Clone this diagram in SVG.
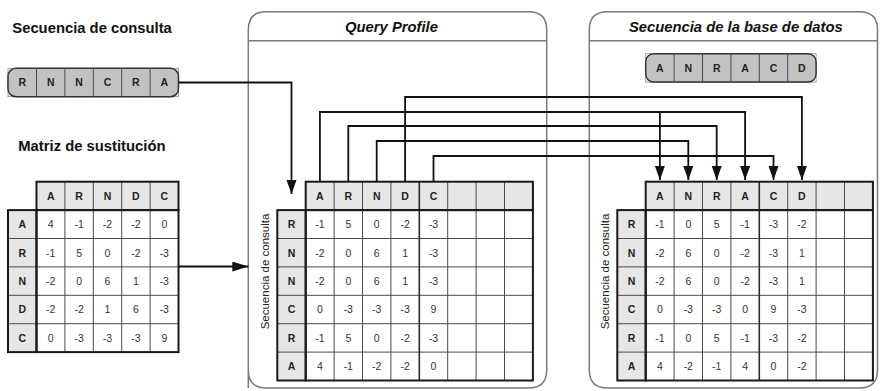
<svg xmlns="http://www.w3.org/2000/svg" width="880" height="391" viewBox="0 0 880 391">
  <style>
    .hdr { fill: #e6e6e6; }
    .seqcell { fill: #c2c2c2; }
    .white { fill: #ffffff; }
    .grid { stroke: #4a4a4a; stroke-width: 1; fill: none; }
    .frame { stroke: #1a1a1a; stroke-width: 2; fill: none; }
    .lbl { font-family: "Liberation Sans", Arial, sans-serif; font-weight: bold; font-size: 10.5px; text-anchor: middle; fill: #222; }
    .num { font-family: "Liberation Sans", Arial, sans-serif; font-size: 10.5px; text-anchor: middle; fill: #333; }
    .title { font-family: "Liberation Sans", Arial, sans-serif; font-weight: bold; font-size: 14.8px; fill: #111; }
    .ptitle { font-family: "Liberation Sans", Arial, sans-serif; font-weight: bold; font-style: italic; font-size: 14.8px; fill: #111; text-anchor: middle; }
    .side { font-family: "Liberation Sans", Arial, sans-serif; font-size: 11.5px; fill: #222; text-anchor: middle; }
    .panel { fill: #ffffff; stroke: #7a7a7a; stroke-width: 1.5; }
    .conn { stroke: #111; stroke-width: 1.8; fill: none; }
    .seqbox { fill: #c2c2c2; stroke: #333; stroke-width: 1.5; }
    .seqcorner { fill: none; stroke: #8a8a8a; stroke-width: 0.8; }
  </style>
  <defs>
    <marker id="arrow" markerUnits="userSpaceOnUse" markerWidth="15" markerHeight="11" refX="14" refY="5" orient="auto">
      <path d="M0,0 L14,5 L0,10 z" fill="#111"/>
    </marker>
    <marker id="arrowWide" markerUnits="userSpaceOnUse" markerWidth="17" markerHeight="11" refX="16" refY="5" orient="auto">
      <path d="M0,0 L16,5 L0,10 z" fill="#111"/>
    </marker>
  </defs>

  <rect width="880" height="391" fill="#ffffff"/>

  <!-- Panels -->
  <g id="panel-query-profile">
    <path class="panel" d="M248.3,388 V29.7 Q248.3,11.7 266.3,11.7 H528.7 Q546.7,11.7 546.7,29.7 V370 Q546.7,388 528.7,388 H266.3 Q248.3,388 248.3,370 Z"/>
    <line x1="248.3" y1="40.7" x2="546.7" y2="40.7" stroke="#7a7a7a" stroke-width="1.5"/>
    <text class="ptitle" x="391.5" y="31.7">Query Profile</text>
  </g>
  <g id="panel-database">
    <path class="panel" d="M589.3,370 V29.7 Q589.3,11.7 607.3,11.7 H859.5 Q877.5,11.7 877.5,29.7 V370 Q877.5,388 859.5,388 H607.3 Q589.3,388 589.3,370 Z"/>
    <line x1="589.3" y1="40.7" x2="877.5" y2="40.7" stroke="#7a7a7a" stroke-width="1.5"/>
    <text class="ptitle" x="735.8" y="31.7">Secuencia de la base de datos</text>
  </g>

  <!-- Query sequence -->
  <g id="query-sequence">
    <text class="title" x="12.3" y="33.3">Secuencia de consulta</text>
    <rect class="seqcorner" x="8" y="68.3" width="170.5" height="28.4"/>
    <rect class="seqbox" x="8" y="68.3" width="170.5" height="28.4" rx="8"/>
    <path class="grid" d="M36.5,68.3V96.7 M64.9,68.3V96.7 M93.3,68.3V96.7 M121.7,68.3V96.7 M150.1,68.3V96.7"/>
    <text class="lbl" x="22.3" y="86.3">R</text>
    <text class="lbl" x="50.7" y="86.3">N</text>
    <text class="lbl" x="79.1" y="86.3">N</text>
    <text class="lbl" x="107.5" y="86.3">C</text>
    <text class="lbl" x="135.9" y="86.3">R</text>
    <text class="lbl" x="164.3" y="86.3">A</text>
  </g>

  <!-- Database sequence -->
  <g id="database-sequence">
    <rect class="seqcorner" x="645.7" y="53.7" width="170.4" height="28.4"/>
    <rect class="seqbox" x="645.7" y="53.7" width="170.4" height="28.4" rx="8"/>
    <path class="grid" d="M674.1,53.7V82.1 M702.5,53.7V82.1 M730.9,53.7V82.1 M759.3,53.7V82.1 M787.7,53.7V82.1"/>
    <text class="lbl" x="659.9" y="71.7">A</text>
    <text class="lbl" x="688.3" y="71.7">N</text>
    <text class="lbl" x="716.7" y="71.7">R</text>
    <text class="lbl" x="745.1" y="71.7">A</text>
    <text class="lbl" x="773.5" y="71.7">C</text>
    <text class="lbl" x="801.9" y="71.7">D</text>
  </g>

  <!-- Substitution matrix -->
  <g id="substitution-matrix">
    <text class="title" x="18.3" y="150.7">Matriz de sustitución</text>
    <rect class="hdr" x="36.5" y="181.7" width="142" height="28.4"/>
    <rect class="hdr" x="8" y="210.1" width="28.5" height="142"/>
    <rect class="white" x="36.5" y="210.1" width="142" height="142"/>
    <path class="grid" d="M64.9,181.7V352.1 M93.3,181.7V352.1 M121.7,181.7V352.1 M150.1,181.7V352.1 M8,238.5H178.5 M8,266.9H178.5 M8,295.3H178.5 M8,323.7H178.5"/>
    <rect class="frame" x="36.5" y="181.7" width="142" height="28.4"/>
    <rect class="frame" x="8" y="210.1" width="28.5" height="142"/>
    <rect class="frame" x="36.5" y="210.1" width="142" height="142"/>
    <g class="lbl">
      <text x="50.7" y="199.7">A</text><text x="79.1" y="199.7">R</text><text x="107.5" y="199.7">N</text><text x="135.9" y="199.7">D</text><text x="164.3" y="199.7">C</text>
      <text x="22.3" y="228.1">A</text><text x="22.3" y="256.5">R</text><text x="22.3" y="284.9">N</text><text x="22.3" y="313.3">D</text><text x="22.3" y="341.7">C</text>
    </g>
    <g class="num">
      <text x="50.7" y="228.1">4</text><text x="79.1" y="228.1">-1</text><text x="107.5" y="228.1">-2</text><text x="135.9" y="228.1">-2</text><text x="164.3" y="228.1">0</text>
      <text x="50.7" y="256.5">-1</text><text x="79.1" y="256.5">5</text><text x="107.5" y="256.5">0</text><text x="135.9" y="256.5">-2</text><text x="164.3" y="256.5">-3</text>
      <text x="50.7" y="284.9">-2</text><text x="79.1" y="284.9">0</text><text x="107.5" y="284.9">6</text><text x="135.9" y="284.9">1</text><text x="164.3" y="284.9">-3</text>
      <text x="50.7" y="313.3">-2</text><text x="79.1" y="313.3">-2</text><text x="107.5" y="313.3">1</text><text x="135.9" y="313.3">6</text><text x="164.3" y="313.3">-3</text>
      <text x="50.7" y="341.7">0</text><text x="79.1" y="341.7">-3</text><text x="107.5" y="341.7">-3</text><text x="135.9" y="341.7">-3</text><text x="164.3" y="341.7">9</text>
    </g>
  </g>

  <!-- Query profile table -->
  <g id="query-profile-table">
    <rect class="hdr" x="305.7" y="181.7" width="227.2" height="28.4"/>
    <rect class="hdr" x="277.3" y="210.1" width="28.4" height="170.4"/>
    <rect class="white" x="305.7" y="210.1" width="227.2" height="170.4"/>
    <path class="grid" d="M334.1,181.7V380.5 M362.5,181.7V380.5 M390.9,181.7V380.5 M447.7,181.7V380.5 M476.1,181.7V380.5 M504.5,181.7V380.5 M277.3,238.5H532.9 M277.3,266.9H532.9 M277.3,295.3H532.9 M277.3,323.7H532.9 M277.3,352.1H532.9"/>
    <line x1="419.3" y1="181.7" x2="419.3" y2="380.5" stroke="#2a2a2a" stroke-width="1.6"/>
    <rect class="frame" x="305.7" y="181.7" width="227.2" height="28.4"/>
    <rect class="frame" x="277.3" y="210.1" width="28.4" height="170.4"/>
    <rect class="frame" x="305.7" y="210.1" width="227.2" height="170.4"/>
    <text class="side" transform="translate(268.5,271.5) rotate(-90)">Secuencia de consulta</text>
    <g class="lbl">
      <text x="319.9" y="199.7">A</text><text x="348.3" y="199.7">R</text><text x="376.7" y="199.7">N</text><text x="405.1" y="199.7">D</text><text x="433.5" y="199.7">C</text>
      <text x="291.5" y="228.1">R</text><text x="291.5" y="256.5">N</text><text x="291.5" y="284.9">N</text><text x="291.5" y="313.3">C</text><text x="291.5" y="341.7">R</text><text x="291.5" y="370.1">A</text>
    </g>
    <g class="num">
      <text x="319.9" y="228.1">-1</text><text x="348.3" y="228.1">5</text><text x="376.7" y="228.1">0</text><text x="405.1" y="228.1">-2</text><text x="433.5" y="228.1">-3</text>
      <text x="319.9" y="256.5">-2</text><text x="348.3" y="256.5">0</text><text x="376.7" y="256.5">6</text><text x="405.1" y="256.5">1</text><text x="433.5" y="256.5">-3</text>
      <text x="319.9" y="284.9">-2</text><text x="348.3" y="284.9">0</text><text x="376.7" y="284.9">6</text><text x="405.1" y="284.9">1</text><text x="433.5" y="284.9">-3</text>
      <text x="319.9" y="313.3">0</text><text x="348.3" y="313.3">-3</text><text x="376.7" y="313.3">-3</text><text x="405.1" y="313.3">-3</text><text x="433.5" y="313.3">9</text>
      <text x="319.9" y="341.7">-1</text><text x="348.3" y="341.7">5</text><text x="376.7" y="341.7">0</text><text x="405.1" y="341.7">-2</text><text x="433.5" y="341.7">-3</text>
      <text x="319.9" y="370.1">4</text><text x="348.3" y="370.1">-1</text><text x="376.7" y="370.1">-2</text><text x="405.1" y="370.1">-2</text><text x="433.5" y="370.1">0</text>
    </g>
  </g>

  <!-- Database score table -->
  <g id="database-score-table">
    <rect class="hdr" x="645.7" y="181.7" width="227.2" height="28.4"/>
    <rect class="hdr" x="617.3" y="210.1" width="28.4" height="170.4"/>
    <rect class="white" x="645.7" y="210.1" width="227.2" height="170.4"/>
    <path class="grid" d="M674.1,181.7V380.5 M702.5,181.7V380.5 M730.9,181.7V380.5 M787.7,181.7V380.5 M816.1,181.7V380.5 M844.5,181.7V380.5 M617.3,238.5H872.9 M617.3,266.9H872.9 M617.3,295.3H872.9 M617.3,323.7H872.9 M617.3,352.1H872.9"/>
    <line x1="759.3" y1="181.7" x2="759.3" y2="380.5" stroke="#2a2a2a" stroke-width="1.6"/>
    <rect class="frame" x="645.7" y="181.7" width="227.2" height="28.4"/>
    <rect class="frame" x="617.3" y="210.1" width="28.4" height="170.4"/>
    <rect class="frame" x="645.7" y="210.1" width="227.2" height="170.4"/>
    <text class="side" transform="translate(608.5,271.5) rotate(-90)">Secuencia de consulta</text>
    <g class="lbl">
      <text x="659.9" y="199.7">A</text><text x="688.3" y="199.7">N</text><text x="716.7" y="199.7">R</text><text x="745.1" y="199.7">A</text><text x="773.5" y="199.7">C</text><text x="801.9" y="199.7">D</text>
      <text x="631.5" y="228.1">R</text><text x="631.5" y="256.5">N</text><text x="631.5" y="284.9">N</text><text x="631.5" y="313.3">C</text><text x="631.5" y="341.7">R</text><text x="631.5" y="370.1">A</text>
    </g>
    <g class="num">
      <text x="659.9" y="228.1">-1</text><text x="688.3" y="228.1">0</text><text x="716.7" y="228.1">5</text><text x="745.1" y="228.1">-1</text><text x="773.5" y="228.1">-3</text><text x="801.9" y="228.1">-2</text>
      <text x="659.9" y="256.5">-2</text><text x="688.3" y="256.5">6</text><text x="716.7" y="256.5">0</text><text x="745.1" y="256.5">-2</text><text x="773.5" y="256.5">-3</text><text x="801.9" y="256.5">1</text>
      <text x="659.9" y="284.9">-2</text><text x="688.3" y="284.9">6</text><text x="716.7" y="284.9">0</text><text x="745.1" y="284.9">-2</text><text x="773.5" y="284.9">-3</text><text x="801.9" y="284.9">1</text>
      <text x="659.9" y="313.3">0</text><text x="688.3" y="313.3">-3</text><text x="716.7" y="313.3">-3</text><text x="745.1" y="313.3">0</text><text x="773.5" y="313.3">9</text><text x="801.9" y="313.3">-3</text>
      <text x="659.9" y="341.7">-1</text><text x="688.3" y="341.7">0</text><text x="716.7" y="341.7">5</text><text x="745.1" y="341.7">-1</text><text x="773.5" y="341.7">-3</text><text x="801.9" y="341.7">-2</text>
      <text x="659.9" y="370.1">4</text><text x="688.3" y="370.1">-2</text><text x="716.7" y="370.1">-1</text><text x="745.1" y="370.1">4</text><text x="773.5" y="370.1">0</text><text x="801.9" y="370.1">-2</text>
    </g>
  </g>

  <!-- Connectors -->
  <g id="connectors">
    <path class="conn" d="M178.5,82.5 H291.5 V194" marker-end="url(#arrow)"/>
    <path class="conn" d="M178.5,266.5 H248.3" marker-end="url(#arrowWide)"/>
    <path class="conn" d="M405.1,181.7 V97 H801.9 V180" marker-end="url(#arrow)"/>
    <path class="conn" d="M319.9,181.7 V112 H745.1 V180" marker-end="url(#arrow)"/>
    <path class="conn" d="M659.9,112 V180" marker-end="url(#arrow)"/>
    <path class="conn" d="M348.3,181.7 V126 H716.7 V180" marker-end="url(#arrow)"/>
    <path class="conn" d="M376.7,181.7 V141 H688.3 V180" marker-end="url(#arrow)"/>
    <path class="conn" d="M433.5,181.7 V156 H773.5 V180" marker-end="url(#arrow)"/>
  </g>
</svg>
